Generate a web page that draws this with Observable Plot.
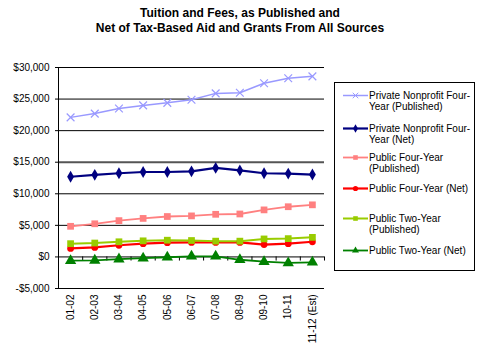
<!DOCTYPE html>
<html><head><meta charset="utf-8">
<script src="https://cdn.jsdelivr.net/npm/d3@7"></script>
<script src="https://cdn.jsdelivr.net/npm/@observablehq/plot@0.6"></script>
<style>
body{margin:0;background:#fff;font-family:"Liberation Sans",Arial,sans-serif;}
#wrap{position:relative;width:480px;height:353px;overflow:hidden;background:#fff;}
#title{position:absolute;left:0;top:6px;width:480px;text-align:center;font-weight:bold;font-size:12px;line-height:14.5px;color:#000;}
#chart{position:absolute;left:0;top:40px;}
#legend{position:absolute;left:334px;top:82px;width:141px;height:189px;border:1px solid #000;box-sizing:border-box;background:#fff;}
.item{position:absolute;left:0;width:140px;font-size:10px;line-height:11px;white-space:nowrap;color:#000;}
.item svg{position:absolute;left:8px;top:0;}
.item span{position:absolute;left:34px;top:0;}
</style>
</head><body>
<div id="wrap">
  <div id="title">Tuition and Fees, as Published and<br>Net of Tax-Based Aid and Grants From All Sources</div>
  <div id="chart"></div>
  <div id="legend"></div>
</div>
<script>
const years = ["01-02","02-03","03-04","04-05","05-06","06-07","07-08","08-09","09-10","10-11","11-12 (Est)"];
const privatePublished   = [22100, 22700, 23500, 24000, 24400, 24900, 25900, 26000, 27500, 28300, 28600];
const privateNet         = [12700, 13000, 13250, 13450, 13450, 13550, 14100, 13700, 13250, 13200, 13050];
const publicFourPublished= [4850, 5250, 5750, 6100, 6400, 6500, 6750, 6800, 7450, 7950, 8250];
const publicFourNet      = [1350, 1500, 1850, 2100, 2250, 2300, 2300, 2300, 1950, 2100, 2400];
const publicTwoPublished = [2100, 2200, 2400, 2550, 2650, 2600, 2500, 2500, 2850, 2900, 3100];
const publicTwoNet       = [-600, -550, -350, -200, -50, 100, 100, -450, -750, -950, -850];
const yTicks = [-5000, 0, 5000, 10000, 15000, 20000, 25000, 30000];
const seriesNames = [
  ["Private Nonprofit Four-","Year (Published)"],
  ["Private Nonprofit Four-","Year (Net)"],
  ["Public Four-Year","(Published)"],
  ["Public Four-Year (Net)"],
  ["Public Two-Year","(Published)"],
  ["Public Two-Year (Net)"]
];

const styles = [
  {color:"#9999FF", symbol:"times", r:3.6, sw:1.5, filled:false},
  {color:"#000080", symbol:"diamond", r:3.6, sw:2.2, filled:true},
  {color:"#FF8080", symbol:"square", r:3.8, sw:1.8, filled:true},
  {color:"#FF0000", symbol:"circle", r:3.4, sw:2.2, filled:true},
  {color:"#99CC00", symbol:"square", r:3.8, sw:2, filled:true},
  {color:"#008000", symbol:"triangle", r:4.2, sw:1.8, filled:true}
];
const seriesValues = [privatePublished, privateNet, publicFourPublished, publicFourNet, publicTwoPublished, publicTwoNet];

const money = d => (d < 0 ? "-" : "") + "$" + d3.format(",")(Math.abs(d));
const idx = d3.range(years.length);
const boundaries = idx.map(i => i + 0.5);

const marks = [
  Plot.ruleY(yTicks.filter(t => t !== 15000), {stroke:"#000", strokeWidth:1}),
  Plot.ruleY([15000], {stroke:"#555", strokeWidth:2}),
  Plot.ruleX([-0.5], {stroke:"#000", strokeWidth:1}),
  Plot.ruleX(boundaries, {x: d => d, y1: 0, y2: -650, stroke:"#000", strokeWidth:1})
];
seriesValues.forEach((vals, k) => {
  const s = styles[k];
  marks.push(Plot.line(vals, {x:(d,i)=>i, y:d=>d, stroke:s.color, strokeWidth:s.sw}));
});
seriesValues.forEach((vals, k) => {
  const s = styles[k];
  marks.push(Plot.dot(vals, {x:(d,i)=>i, y:d=>d, symbol:s.symbol, r:s.r,
    fill: s.filled ? s.color : "none", stroke: s.filled ? "none" : s.color, strokeWidth: 1.2}));
});

const chart = Plot.plot({
  width:330, height:313,
  marginLeft:58, marginRight:6, marginTop:27, marginBottom:65,
  style:{fontFamily:"'Liberation Sans', Arial, sans-serif", fontSize:"10px", color:"#000", background:"transparent", overflow:"visible"},
  x:{domain:[-0.5, 10.5], ticks: idx, tickFormat: i => years[i], tickRotate:-90, tickSize:0, tickPadding:6, label:null},
  y:{domain:[-5000, 30000], ticks: yTicks, tickFormat: money, tickSize:3, tickPadding:6, label:null},
  marks
});
document.getElementById("chart").appendChild(chart);

// legend
const legendTops = [95, 128, 157, 188, 218, 250];
const legend = d3.select("#legend");
seriesNames.forEach((lines, k) => {
  const s = styles[k];
  const item = legend.append("div").attr("class","item").style("top", (legendTops[k] - 82 - 6.5) + "px");
  const svg = item.append("svg").attr("width", 26).attr("height", 11);
  svg.append("line").attr("x1",0).attr("x2",25).attr("y1",5.5).attr("y2",5.5)
    .attr("stroke", s.color).attr("stroke-width", s.sw);
  const sym = {times:d3.symbolTimes, diamond:d3.symbolDiamond, square:d3.symbolSquare, circle:d3.symbolCircle, triangle:d3.symbolTriangle}[s.symbol];
  svg.append("path").attr("transform","translate(12.5,5.5)")
    .attr("d", d3.symbol(sym, Math.PI * 2.6 * 2.6)())
    .attr("fill", s.filled ? s.color : "none").attr("stroke", s.filled ? "none" : s.color);
  item.append("span").html(lines.join("<br>"));
});
</script>
</body></html>
